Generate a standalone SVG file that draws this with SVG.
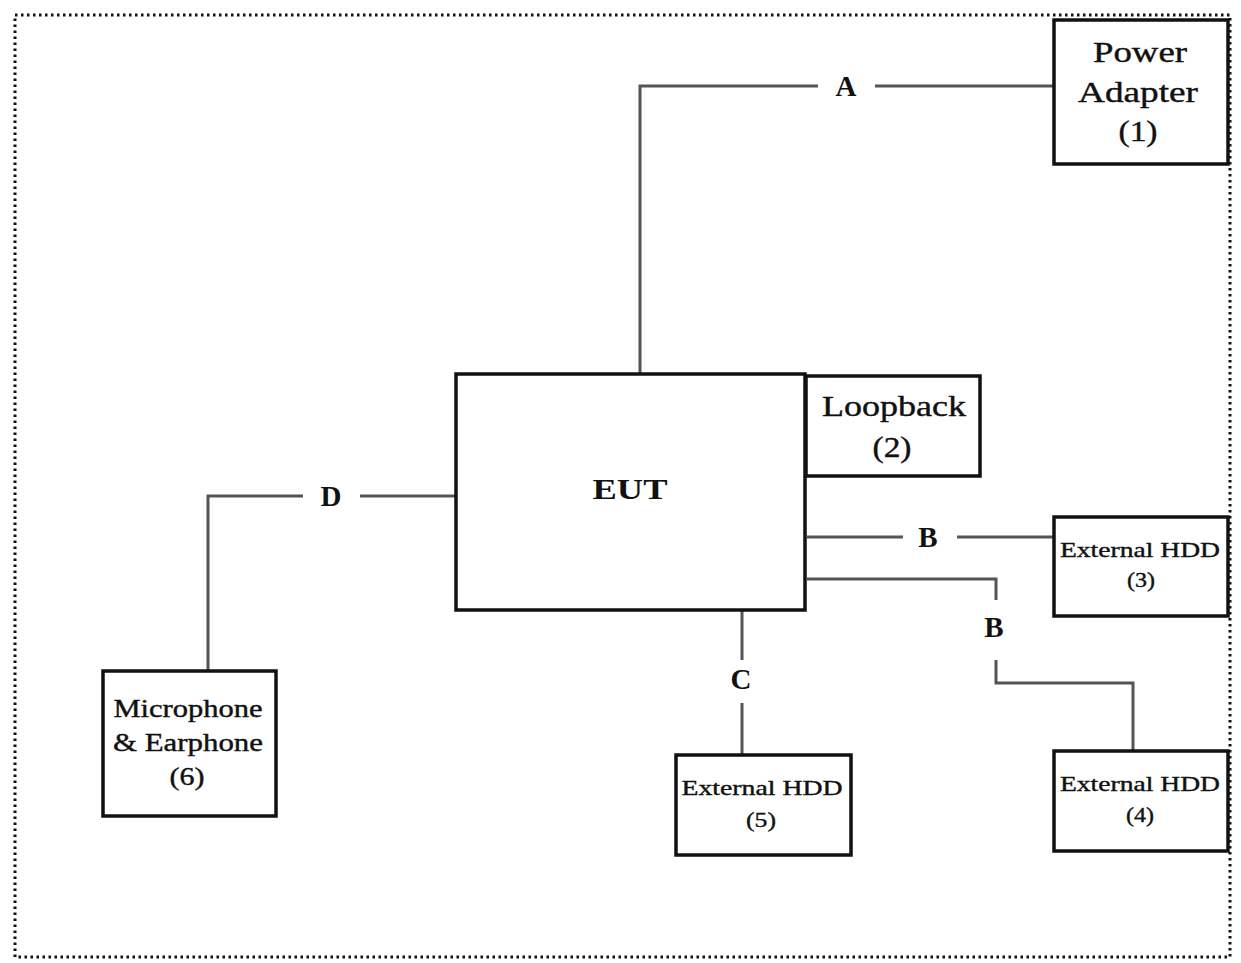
<svg xmlns="http://www.w3.org/2000/svg" width="1241" height="963" viewBox="0 0 1241 963">
<style>
.box{fill:#fff;stroke:#111;stroke-width:3.5}
.ln{fill:none;stroke:#555;stroke-width:3}
.t{font-family:"Liberation Serif","Times New Roman",serif;fill:#111;text-anchor:middle;stroke:#111;stroke-width:0.4}
.big{font-size:29px}
.lbl{font-size:29px;font-weight:bold;stroke-width:0}
.sm{font-size:22px}
.md{font-size:25px}
</style>
<rect width="1241" height="963" fill="#fff"/>
<rect id="border" x="15" y="15" width="1215" height="942" fill="none" stroke="#111" stroke-width="3" stroke-dasharray="2.5 3.5"/>
<g id="connectors">
<polyline class="ln" points="640,373 640,86 818,86"/>
<line class="ln" x1="875" y1="86" x2="1053" y2="86"/>
<polyline class="ln" points="208,670 208,496 303,496"/>
<line class="ln" x1="360" y1="496" x2="455" y2="496"/>
<line class="ln" x1="807" y1="537" x2="903" y2="537"/>
<line class="ln" x1="957" y1="537" x2="1053" y2="537"/>
<polyline class="ln" points="807,579 996,579 996,600"/>
<polyline class="ln" points="996,660 996,683 1133,683 1133,750"/>
<line class="ln" x1="742" y1="610" x2="742" y2="660"/>
<line class="ln" x1="742" y1="703" x2="742" y2="754"/>
<text class="t lbl" x="846" y="96">A</text>
<text class="t lbl" x="331" y="506">D</text>
<text class="t lbl" x="928" y="547">B</text>
<text class="t lbl" x="994" y="637">B</text>
<text class="t lbl" x="741" y="689">C</text>
</g>
<g id="power-adapter">
<rect class="box" x="1054" y="20" width="174" height="144"/>
<text class="t big" x="1140" y="62" textLength="94" lengthAdjust="spacingAndGlyphs">Power</text>
<text class="t big" x="1138" y="102" textLength="120" lengthAdjust="spacingAndGlyphs">Adapter</text>
<text class="t big" x="1138" y="141" textLength="39" lengthAdjust="spacingAndGlyphs">(1)</text>
</g>
<g id="eut">
<rect class="box" x="456" y="374" width="349" height="236"/>
<text class="t lbl" x="630" y="499" textLength="75" lengthAdjust="spacingAndGlyphs">EUT</text>
</g>
<g id="loopback">
<rect class="box" x="806" y="376" width="174" height="100"/>
<text class="t big" x="894" y="416" textLength="144" lengthAdjust="spacingAndGlyphs">Loopback</text>
<text class="t big" x="892" y="457" textLength="39" lengthAdjust="spacingAndGlyphs">(2)</text>
</g>
<g id="hdd3">
<rect class="box" x="1054" y="517" width="174" height="99"/>
<text class="t sm" x="1140" y="557" textLength="160" lengthAdjust="spacingAndGlyphs">External HDD</text>
<text class="t sm" x="1141" y="587" textLength="28" lengthAdjust="spacingAndGlyphs">(3)</text>
</g>
<g id="hdd4">
<rect class="box" x="1054" y="751" width="174" height="100"/>
<text class="t sm" x="1140" y="791" textLength="160" lengthAdjust="spacingAndGlyphs">External HDD</text>
<text class="t sm" x="1140" y="822" textLength="28" lengthAdjust="spacingAndGlyphs">(4)</text>
</g>
<g id="hdd5">
<rect class="box" x="676" y="755" width="175" height="100"/>
<text class="t sm" x="762" y="795" textLength="161" lengthAdjust="spacingAndGlyphs">External HDD</text>
<text class="t sm" x="761" y="827" textLength="30" lengthAdjust="spacingAndGlyphs">(5)</text>
</g>
<g id="microphone">
<rect class="box" x="103" y="671" width="173" height="145"/>
<text class="t md" x="188" y="717" textLength="149" lengthAdjust="spacingAndGlyphs">Microphone</text>
<text class="t md" x="188" y="751" textLength="150" lengthAdjust="spacingAndGlyphs">&amp; Earphone</text>
<text class="t md" x="187" y="785" textLength="35" lengthAdjust="spacingAndGlyphs">(6)</text>
</g>
</svg>
